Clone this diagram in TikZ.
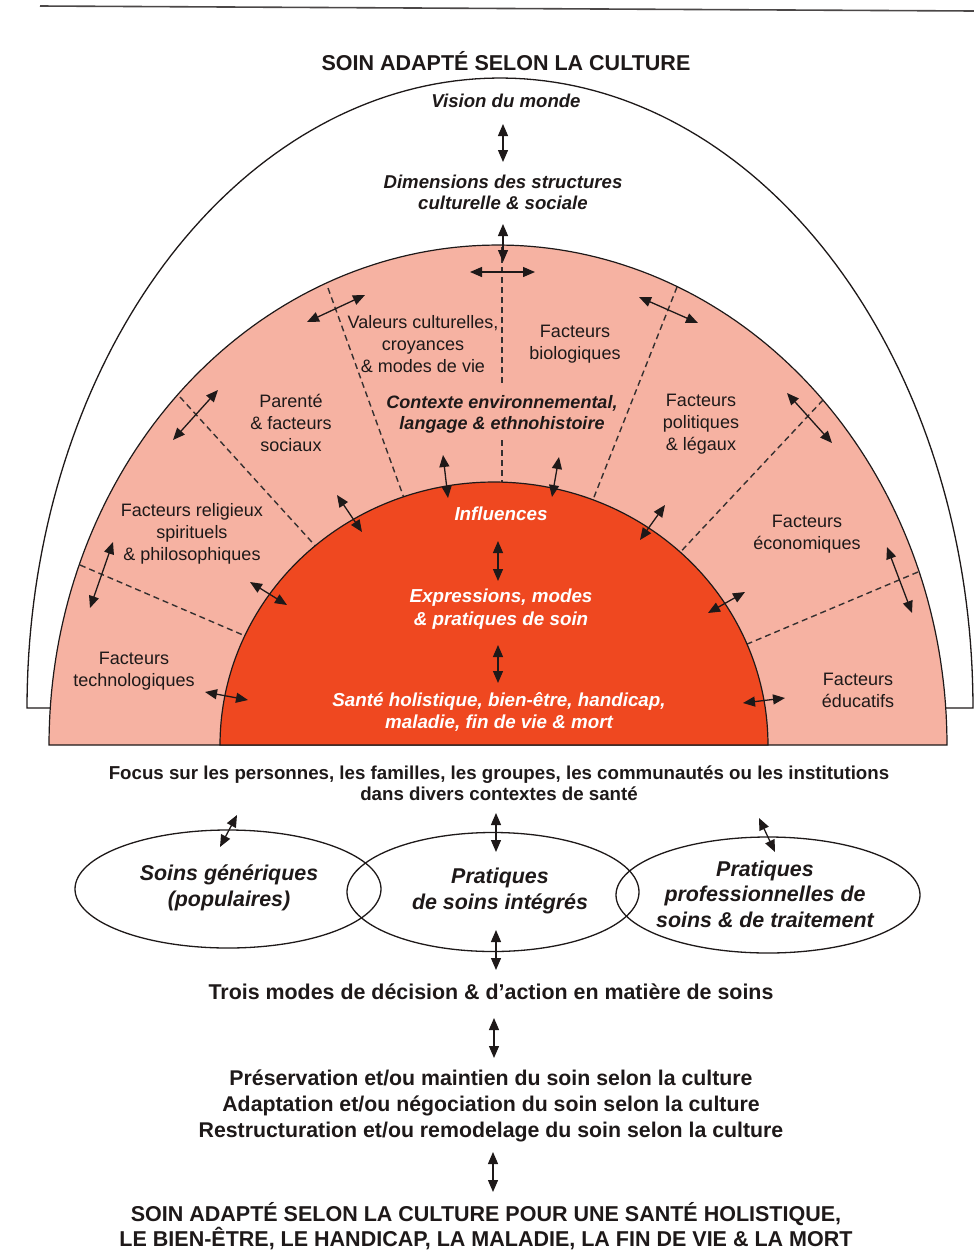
\documentclass[tikz,border=0pt]{standalone}
\usepackage{fontspec}
\setmainfont{Liberation Sans}
\usetikzlibrary{arrows.meta,shapes.geometric}
\definecolor{pinkfill}{RGB}{246,178,162}
\definecolor{redfill}{RGB}{239,72,32}
\definecolor{ink}{RGB}{30,25,25}
\begin{document}
\begin{tikzpicture}[x=1pt,y=-1pt,
  darrow/.style={{Triangle[length=12pt,width=10pt]}-{Triangle[length=12pt,width=10pt]}, line width=1.3pt, draw=ink},
  sector/.style={draw=ink!90, dash pattern=on 6pt off 4pt, line width=1.4pt},
  ptext/.style={align=center, font=\fontsize{18}{22}\selectfont, text=ink, inner sep=0pt},
  rtext/.style={align=center, font=\fontsize{18.8}{22.5}\selectfont\bfseries\itshape, text=white, inner sep=0pt},
  itext/.style={align=center, font=\fontsize{18.6}{21}\selectfont\bfseries\itshape, text=ink, inner sep=0pt},
  btext/.style={align=center, font=\fontsize{18.7}{20.5}\selectfont\bfseries, text=ink, inner sep=0pt},
  etext/.style={align=center, font=\fontsize{21.4}{25.5}\selectfont\bfseries\itshape, text=ink, inner sep=0pt},
  oval/.style={draw=ink, ellipse, line width=1.3pt, inner sep=0pt},
  outline/.style={draw=ink, line width=1.3pt}
]
\useasboundingbox (0,0) rectangle (974,1254);
\fill[white] (0,0) rectangle (974,1254);

% scanned page rule
\draw[line width=1.6pt, ink!80] (40,6) -- (974,11);

% outer arch
\path[outline, fill=white] plot[domain=180:0, samples=150] ({500+473*cos(\x)},{708-630*sin(\x)}) -- cycle;
% pink ring
\path[outline, line width=1.2pt, fill=pinkfill] plot[domain=180:0, samples=150] ({498+449*cos(\x)},{745-500*sin(\x)}) -- cycle;

% sector dashed lines
\draw[sector, shorten >=-14pt] (80,565) -- (243,635);
\draw[sector, shorten >=-14pt] (180,397) -- (310,540);
\draw[sector, shorten >=-14pt] (328,288) -- (400,487);
\draw[sector] (502,247) -- (502,383);
\draw[sector, shorten >=-14pt] (502,440) -- (502,482);
\draw[sector, shorten >=-14pt] (677,287) -- (598,487);
\draw[sector, shorten >=-14pt] (823,400) -- (687,545);
\draw[sector, shorten >=-14pt] (918,572) -- (752,642);

% red core
\path[outline, line width=1.2pt, fill=redfill] plot[domain=180:0, samples=150] ({494+274*cos(\x)},{745-263*sin(\x)}) -- cycle;

% texts top
\node[align=center, font=\fontsize{21.5}{25}\selectfont\bfseries, text=ink, inner sep=0pt] (title) at (506,61) {SOIN ADAPTÉ SELON LA CULTURE};
\node[itext] (vision) at (506,101) {Vision du monde};
\node[itext] (dims) at (503,192) {Dimensions des structures\\culturelle \& sociale};

% pink sector texts
\node[ptext] (valeurs) at (423,344) {Valeurs culturelles,\\croyances\\\& modes de vie};
\node[ptext] (bio) at (575,344) {Facteurs\\biologiques};
\node[itext, font=\fontsize{18}{21}\selectfont\bfseries\itshape] (contexte) at (502,414) {Contexte environnemental,\\langage \& ethnohistoire};
\node[ptext] (parente) at (291,423) {Parenté\\\& facteurs\\sociaux};
\node[ptext] (politiques) at (701,424) {Facteurs\\politiques\\\& légaux};
\node[ptext] (religieux) at (192,534) {Facteurs religieux\\spirituels\\\& philosophiques};
\node[ptext] (economiques) at (807,534) {Facteurs\\économiques};
\node[ptext] (techno) at (134,671) {Facteurs\\technologiques};
\node[ptext] (educatifs) at (858,690) {Facteurs\\éducatifs};

% red texts
\node[rtext] (influences) at (501,514) {Influences};
\node[rtext] (expressions) at (501,609) {Expressions, modes\\\& pratiques de soin};
\node[rtext] (sante) at (499,712) {Santé holistique, bien-être, handicap,\\maladie, fin de vie \& mort};

% arrows in the dome
\draw[darrow] (503,124) -- (503,162);
\draw[darrow] (503,224) -- (503,262);
\draw[darrow] (470,272) -- (535,272);
\draw[darrow] (307,322) -- (365,295);
\draw[darrow] (639,297) -- (698,323);
\draw[darrow] (173,440) -- (218,390);
\draw[darrow] (787,393) -- (832,443);
\draw[darrow] (113,542) -- (90,608);
\draw[darrow] (887,547) -- (912,613);
\draw[darrow] (337,495) -- (362,532);
\draw[darrow] (250,582) -- (287,605);
\draw[darrow] (205,692) -- (248,700);
\draw[darrow] (443,455) -- (448,498);
\draw[darrow] (559,457) -- (552,497);
\draw[darrow] (665,505) -- (640,540);
\draw[darrow] (745,592) -- (708,613);
\draw[darrow] (743,703) -- (785,698);
\draw[darrow] (498,541) -- (498,581);
\draw[darrow] (498,645) -- (498,683);

% lower part
\node[btext] (focus) at (499,783) {Focus sur les personnes, les familles, les groupes, les communautés ou les institutions\\dans divers contextes de santé};

\node[oval, minimum width=306pt, minimum height=118pt] (e1) at (228,889) {};
\node[oval, minimum width=292pt, minimum height=119pt] (e2) at (493,892) {};
\node[oval, minimum width=304pt, minimum height=116pt] (e3) at (768,895) {};
\node[etext] (t1) at (229,888) {Soins génériques\\(populaires)};
\node[etext] (t2) at (500,891) {Pratiques\\de soins intégrés};
\node[etext] (t3) at (765,894) {Pratiques\\professionnelles de\\soins \& de traitement};

\draw[darrow] (237,815) -- (220,847);
\draw[darrow] (496,813) -- (496,852);
\draw[darrow] (759,818) -- (775,852);
\draw[darrow] (496,930) -- (496,970);

\node[btext, font=\fontsize{21.4}{24}\selectfont\bfseries] (trois) at (491,992) {Trois modes de décision \& d’action en matière de soins};
\draw[darrow] (494,1018) -- (494,1058);
\node[btext, font=\fontsize{21.3}{26}\selectfont\bfseries] (modes) at (491,1106) {Préservation et/ou maintien du soin selon la culture\\Adaptation et/ou négociation du soin selon la culture\\Restructuration et/ou remodelage du soin selon la culture};
\draw[darrow] (493,1152) -- (493,1192);
\node[btext, font=\fontsize{21.5}{25}\selectfont\bfseries] (final) at (486,1226) {SOIN ADAPTÉ SELON LA CULTURE POUR UNE SANTÉ HOLISTIQUE,\\LE BIEN-ÊTRE, LE HANDICAP, LA MALADIE, LA FIN DE VIE \& LA MORT};
\end{tikzpicture}
\end{document}
